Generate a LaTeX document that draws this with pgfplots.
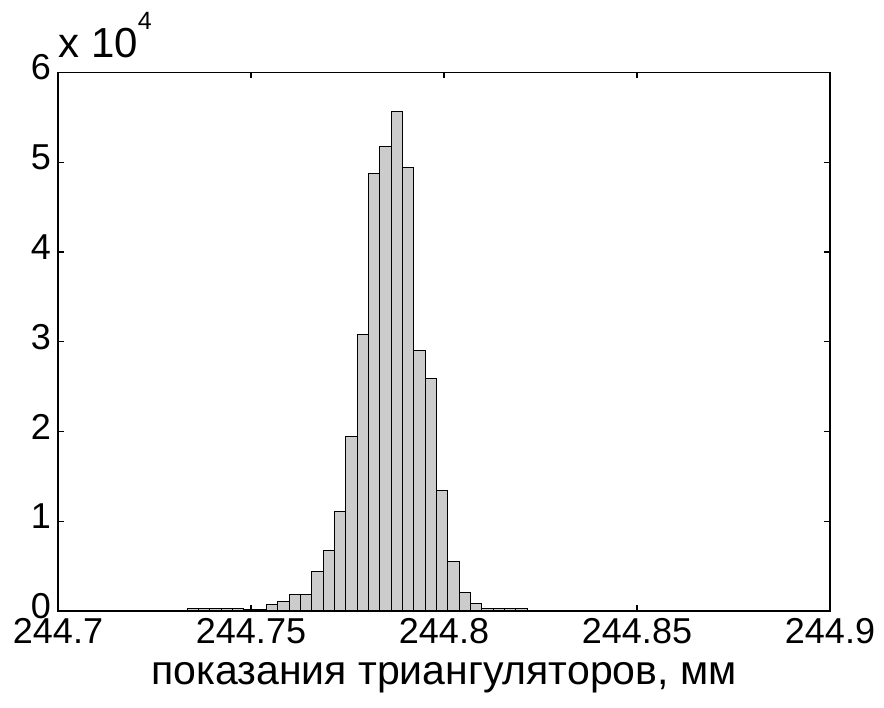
\documentclass[border=0pt]{standalone}
\usepackage{fontspec}
\setmainfont{Liberation Sans}
\usepackage{pgfplots}
\pgfplotsset{compat=1.18}
\usetikzlibrary{calc}
\definecolor{bargray}{RGB}{204,204,204}
\begin{document}
\begin{tikzpicture}
\begin{axis}[
  scale only axis, width=386pt, height=269.25pt,
  xmin=244.7, xmax=244.9, ymin=0, ymax=60000,
  xtick={244.7,244.75,244.8,244.85,244.9},
  xticklabels={244.7,244.75,244.8,244.85,244.9},
  ytick={0,10000,20000,30000,40000,50000,60000},
  yticklabels={0,1,2,3,4,5,6},
  scaled x ticks=false, scaled y ticks=false,
  tick align=inside, major tick length=3pt,
  tick style={black, line width=0.6pt},
  axis line style={black, line width=0.75pt},
  ticklabel style={font=\fontsize{18}{21}\selectfont},
  xticklabel style={yshift=0pt},
  yticklabel style={yshift=2.5pt},
  xlabel={показания триангуляторов, мм},
  xlabel style={font=\fontsize{20.5}{24}\selectfont, at={(axis description cs:0.5,0)}, anchor=center, yshift=-33.5pt},
]
  % histogram, bin edges and counts
  \addplot[ybar interval, fill=bargray, draw=black, line width=0.5pt] coordinates {
    (244.733500,250) (244.736436,250) (244.739372,250) (244.742308,250)
    (244.745244,250) (244.748180,220) (244.751116,220) (244.754052,750)
    (244.756988,1040) (244.759924,1860) (244.762860,1860) (244.765796,4400)
    (244.768732,6750) (244.771668,11140) (244.774604,19450) (244.777540,30830)
    (244.780476,48690) (244.783412,51780) (244.786348,55630) (244.789284,49440)
    (244.792220,28970) (244.795156,25850) (244.798092,13440) (244.801028,5460)
    (244.803964,2070) (244.806900,780) (244.809836,290) (244.812772,250)
    (244.815708,250) (244.818644,250) (244.821580,0)
  };
\end{axis}
\node[anchor=base west, inner sep=0pt, yshift=7.25pt, font=\fontsize{21}{24}\selectfont]
  at (current axis.north west) {x 10\raisebox{14pt}{\fontsize{12.5}{14}\selectfont 4}};
\pgfresetboundingbox
\path[use as bounding box] ($(current axis.south west)+(-29pt,-48.5pt)$) rectangle ($(current axis.north east)+(27pt,36.25pt)$);
\end{tikzpicture}
\end{document}
